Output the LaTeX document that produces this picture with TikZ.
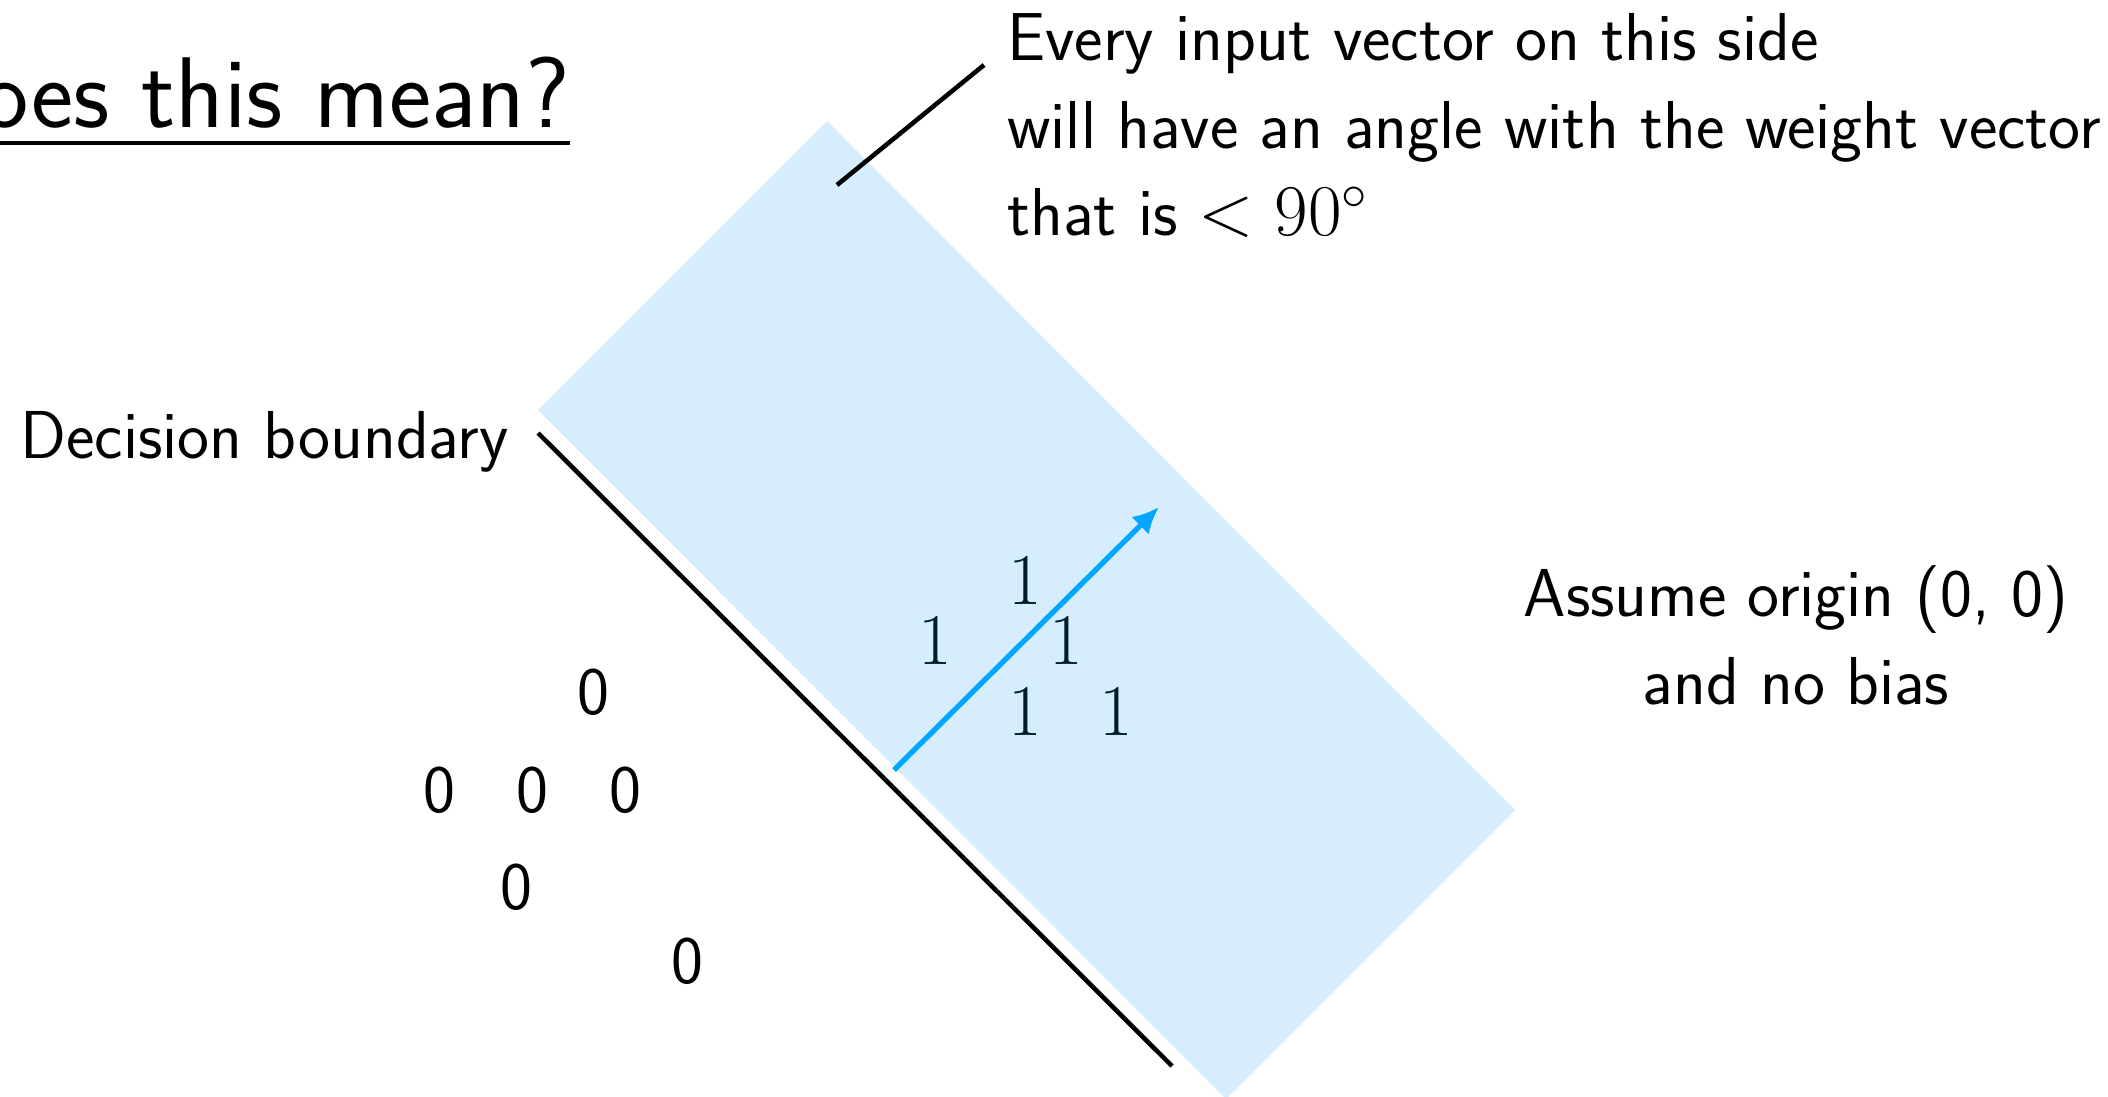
\documentclass[tikz,border=0pt]{standalone}
\usepackage{amssymb,amsmath}
\usepackage[svgnames]{xcolor}
\usetikzlibrary{positioning}
\usetikzlibrary{arrows.meta}
\renewcommand{\familydefault}{\sfdefault}
\definecolor{halfblue}{RGB}{213,237,252}
\definecolor{wblue}{RGB}{0,166,255}
\definecolor{onecol}{RGB}{0,27,45}
\tikzset{txt/.style = {font=\fontsize{19.3}{25}\selectfont, inner sep=0}}
\tikzset{zero/.style = {font=\fontsize{19.3}{25}\selectfont, inner sep=0}}
\tikzset{one/.style = {font=\fontsize{20.5}{25}\selectfont, text=onecol, inner sep=0}}
\tikzset{
  every picture/.style={
    every path/.style={line width=1.3pt},
  }
}

\begin{document}
\begin{tikzpicture}
        \useasboundingbox (0,0) rectangle (21.08,10.96);
        \fill[halfblue] (8.27,9.75) -- (15.15,2.86) -- (12.26,-0.03) -- (5.38,6.86) -- cycle;
        \node[anchor=base east, font=\fontsize{28.6}{32}\selectfont, inner sep=0]
          (title) at (5.72,9.68) {\underline{Does this mean?}};
        \coordinate (db1) at (5.38,6.63);
        \coordinate (db2) at (11.72,0.30);
        \draw (db1) -- (db2);
        \node[txt, anchor=base east] (decision) at (5.11,6.38) {Decision boundary};
        \coordinate (ptr1) at (8.37,9.11);
        \coordinate (ptr2) at (9.84,10.31);
        \draw (ptr1) -- (ptr2);
        \node[txt, anchor=base west, align=left] (every) at (10.05,8.60)
          {Every input vector on this side\\
           will have an angle with the weight vector\\
           that is $<90^\circ$};
        \node[txt, anchor=base, align=center] (assume) at (17.96,3.92)
          {Assume origin (0, 0)\\ and no bias};
        \coordinate (w0) at (8.94,3.26);
        \coordinate (w1) at (11.59,5.89);
        \draw[-{Latex[length=7.5pt,width=7pt]}, wblue, line width=1.5pt] (w0) -- (w1);
        % class 1 points
        \foreach \i/\x/\y in {1/10.25/5.15, 2/9.35/4.55, 3/10.66/4.55, 4/10.25/3.84, 5/11.16/3.84}
          \node[one] (one\i) at (\x,\y) {$1$};
        % class 0 points
        \foreach \i/\x/\y in {1/5.93/4.04, 2/4.39/3.06, 3/5.32/3.06, 4/6.25/3.06, 5/5.16/2.09, 6/6.87/1.35}
          \node[zero] (zero\i) at (\x,\y) {0};
      \end{tikzpicture}
\end{document}
